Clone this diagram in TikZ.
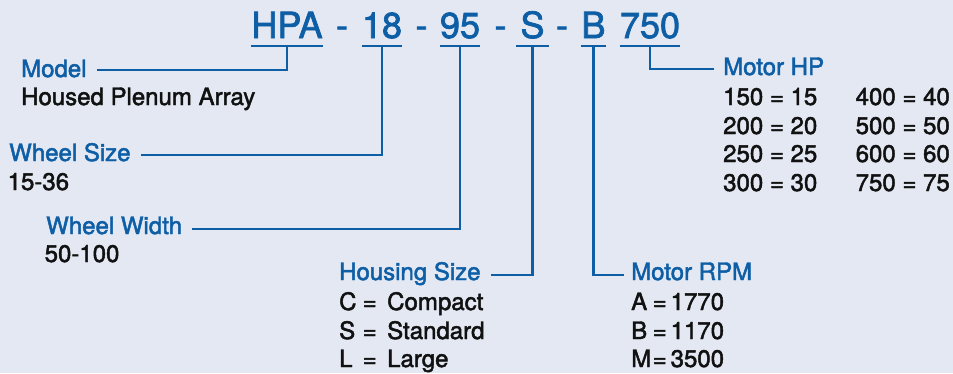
\documentclass[tikz,border=0pt]{standalone}
\usepackage{fontspec}
\setmainfont{TeX Gyre Heros}[FakeBold=2]
\definecolor{bgblue}{RGB}{227,232,243}
\definecolor{codeblue}{RGB}{14,94,166}
\definecolor{inkblack}{RGB}{17,17,17}
\tikzset{
  code/.style={anchor=base, inner sep=0pt, text=codeblue, font=\fontsize{36}{36}\selectfont},
  head/.style={anchor=base west, inner sep=0pt, text=codeblue, font=\fontsize{24}{24}\selectfont},
  body/.style={anchor=base west, inner sep=0pt, text=inkblack, font=\fontsize{24}{24}\selectfont},
  lead/.style={draw=codeblue, line width=2.5pt},
}
\newcommand{\hsrow}[2]{\makebox[23.5pt][l]{#1}\makebox[24.5pt][l]{=}#2}
\newcommand{\rpmrow}[2]{\makebox[21.5pt][l]{#1}\makebox[18pt][l]{=}#2}
\begin{document}
\begin{tikzpicture}[x=1pt, y=-1pt]
\fill[bgblue] (0,0) rectangle (953,373);
\useasboundingbox (0,0) rectangle (953,373);
\node[code] (hpa) at (287,38) {HPA};
\node[code] (dash1) at (342,38) {-};
\node[code] (wsz) at (382,38) {18};
\node[code] (dash2) at (421.5,38) {-};
\node[code] (wwd) at (460,38) {95};
\node[code] (dash3) at (500.5,38) {-};
\node[code] (hsz) at (532.5,38) {S};
\node[code] (dash4) at (562,38) {-};
\node[code] (rpm) at (593.5,38) {B};
\node[code] (hp) at (650,38) {750};
\node[head] (model) at (21,77) {Model};
\node[body] (modeltxt) at (21,105) {Housed Plenum Array};
\node[head] (wsize) at (9,161) {Wheel Size};
\node[body] (wsizetxt) at (7.5,190) {15-36};
\node[head] (wwidth) at (46,234) {Wheel Width};
\node[body] (wwidthtxt) at (44.5,262) {50-100};
\node[head] (hsize) at (339,280) {Housing Size};
\node[body] (hsize1) at (339,310) {\hsrow{C}{Compact}};
\node[body] (hsize2) at (339,339) {\hsrow{S}{Standard}};
\node[body] (hsize3) at (339,367) {\hsrow{L}{Large}};
\node[head] (mrpm) at (631,280) {Motor RPM};
\node[body] (mrpm1) at (631,310) {\rpmrow{A}{1770}};
\node[body] (mrpm2) at (631,339) {\rpmrow{B}{1170}};
\node[body] (mrpm3) at (631,367) {\rpmrow{M}{3500}};
\node[head] (mhp) at (723,75) {Motor HP};
\node[body] (mhp1) at (723,105) {150 = 15};
\node[body] (mhp2) at (723,134) {200 = 20};
\node[body] (mhp3) at (723,162) {250 = 25};
\node[body] (mhp4) at (723,191) {300 = 30};
\node[body] (mhp5) at (855.5,105) {400 = 40};
\node[body] (mhp6) at (855.5,134) {500 = 50};
\node[body] (mhp7) at (855.5,162) {600 = 60};
\node[body] (mhp8) at (855.5,191) {750 = 75};
\draw[lead] ([yshift=-8pt]hpa.base west) -- ([yshift=-8pt]hpa.base east);
\draw[lead] ([yshift=-8pt]wsz.base west) -- ([yshift=-8pt]wsz.base east);
\draw[lead] ([yshift=-8pt]wwd.base west) -- ([yshift=-8pt]wwd.base east);
\draw[lead] ([xshift=-4pt,yshift=-8pt]hsz.base west) -- ([xshift=4pt,yshift=-8pt]hsz.base east);
\draw[lead] ([yshift=-8pt]rpm.base west) -- ([yshift=-8pt]rpm.base east);
\draw[lead] ([yshift=-8pt]hp.base west) -- ([yshift=-8pt]hp.base east);
\draw[lead] ([yshift=-8pt]hpa.base) |- ([xshift=10pt,yshift=7pt]model.base east);
\draw[lead] ([yshift=-8pt]wsz.base) |- ([xshift=10pt,yshift=6pt]wsize.base east);
\draw[lead] ([yshift=-8pt]wwd.base) |- ([xshift=10pt,yshift=5pt]wwidth.base east);
\draw[lead] ([yshift=-8pt]hsz.base) |- ([xshift=10pt,yshift=5pt]hsize.base east);
\draw[lead] ([yshift=-8pt]rpm.base) |- ([xshift=-7pt,yshift=5pt]mrpm.base west);
\draw[lead] ([yshift=-8pt]hp.base) |- ([xshift=-9pt,yshift=6pt]mhp.base west);
\end{tikzpicture}
\end{document}
